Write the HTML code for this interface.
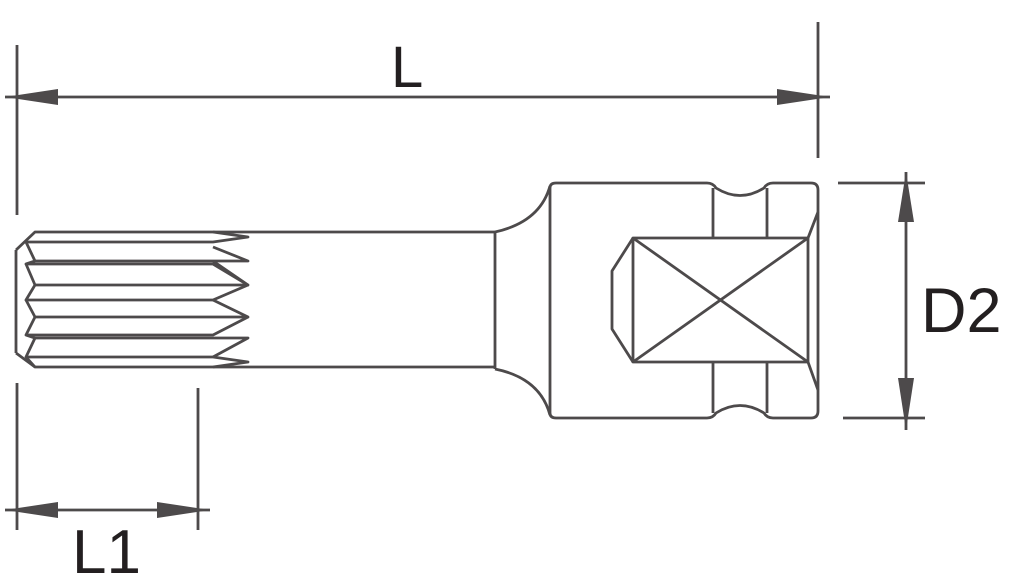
<!DOCTYPE html>
<html><head><meta charset="utf-8"><style>
html,body{margin:0;padding:0;background:#fff;}
svg{display:block;}
text{font-family:"Liberation Sans",sans-serif;fill:#231f20;}
</style></head><body>
<svg width="1011" height="586" viewBox="0 0 1011 586" xmlns="http://www.w3.org/2000/svg">
<g stroke="#4d4a4b" stroke-width="2.8" fill="none" stroke-linejoin="round">
<line x1="17" y1="45" x2="17" y2="215"/>
<line x1="818" y1="22" x2="818" y2="158"/>
<line x1="5" y1="97" x2="830" y2="97"/>
<line x1="17" y1="383" x2="17" y2="530"/>
<line x1="198" y1="388" x2="198" y2="530"/>
<line x1="5" y1="510" x2="210" y2="510"/>
<line x1="838" y1="183" x2="925" y2="183"/>
<line x1="843" y1="418" x2="925" y2="418"/>
<line x1="906" y1="172" x2="906" y2="430"/>
<line x1="16" y1="250" x2="16" y2="353"/>
<polyline points="16,250 35,232 495,232"/>
<polyline points="16,353 35,367 495,367"/>
<polyline points="26,242 213,242 248,237 213,232"/>
<polyline points="26,242 35,261 213,261 248,261 213,247"/>
<polyline points="35,261 26,264 213,264 248,285 213,261"/>
<polyline points="26,264 35,285 213,285 248,285"/>
<polyline points="35,285 26,300 213,300 248,285"/>
<polyline points="26,300 35,317 213,317 248,317 213,300"/>
<polyline points="35,317 26,335 213,335 248,317"/>
<polyline points="26,335 35,338 213,338 248,338 213,357"/>
<polyline points="35,338 26,357 213,357 248,362 213,367"/>
<polyline points="26,357 35,367"/>
<line x1="495" y1="232" x2="495" y2="369"/>
<path d="M495,232 Q540,222 550,186"/>
<path d="M495,369 Q540,378 550,415"/>
<path d="M550,188 Q550,183 556,183 L707,183 Q713,183 716,188 Q740,203 764,188 Q767,183 773,183 L811,183 Q818,183 818,190 L818,411 Q818,418 811,418 L773,418 Q767,418 764,413 Q740,398 716,413 Q713,418 707,418 L556,418 Q550,418 550,413 Z"/>
<line x1="713" y1="188" x2="713" y2="238"/>
<line x1="767" y1="188" x2="767" y2="238"/>
<line x1="713" y1="362" x2="713" y2="413"/>
<line x1="767" y1="362" x2="767" y2="413"/>
<rect x="633" y="238" width="175" height="124"/>
<line x1="633" y1="238" x2="808" y2="362"/>
<line x1="808" y1="238" x2="633" y2="362"/>
<polyline points="633,238 612,271 612,329 633,362"/>
<line x1="808" y1="238" x2="818" y2="212"/>
<line x1="808" y1="362" x2="818" y2="390"/>
</g>
<g fill="#4d4a4b">
<polygon points="5,97 58,89 58,105"/>
<polygon points="830,97 777,89 777,105"/>
<polygon points="5,510 58,502 58,518"/>
<polygon points="210,510 157,502 157,518"/>
<polygon points="906,172 898,222 914,222"/>
<polygon points="906,430 898,378 914,378"/>
</g>
<text x="391" y="87" font-size="58">L</text>
<text x="921" y="332" font-size="63">D2</text>
<text x="72" y="573" font-size="62">L1</text>
</svg>
</body></html>
